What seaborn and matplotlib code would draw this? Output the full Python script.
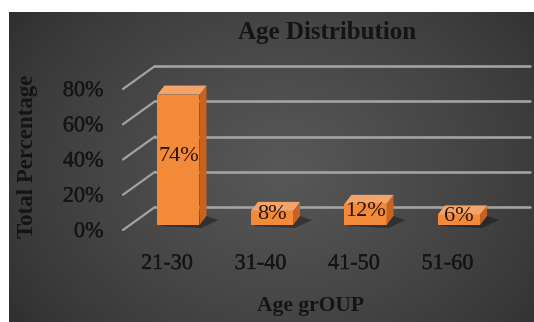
import numpy as np
import pandas as pd
import matplotlib
matplotlib.use("Agg")
import matplotlib.pyplot as plt
import matplotlib.patheffects as pe
import seaborn as sns
from matplotlib.transforms import ScaledTranslation, IdentityTransform
from matplotlib.patches import Polygon

# ---------------- data ----------------
categories = ["21-30", "31-40", "41-50", "51-60"]
values = [0.74, 0.08, 0.12, 0.06]
bar_labels = ["74%", "8%", "12%", "6%"]
y_ticks = [0.0, 0.2, 0.4, 0.6, 0.8]
y_tick_labels = ["0%", "20%", "40%", "60%", "80%"]
title = "Age Distribution"
x_title = "Age grOUP"
y_title = "Total Percentage"

sns.set_theme(style="white")
plt.rcParams["font.family"] = ["Liberation Serif", "DejaVu Serif"]

W, H, DPI = 534, 322, 100
fig = plt.figure(figsize=(W / DPI, H / DPI), dpi=DPI, facecolor="white")
TXT = "#141414"
thick = [pe.withStroke(linewidth=0.25, foreground=TXT)]

# ---------------- background panel (radial grey gradient) ----------------
bg = fig.add_axes([9 / W, 0, (W - 9) / W, (H - 12) / H])
ny, nx = 200, 340
yy, xx = np.mgrid[0:ny, 0:nx]
cx, cy = nx * 0.52, ny * 0.5
r = np.sqrt(((xx - cx) / (nx * 0.62)) ** 2 + ((yy - cy) / (ny * 0.85)) ** 2)
shade = np.clip(1 - r, 0, 1) ** 0.8
c_out = np.array([0x30, 0x30, 0x30]) / 255
c_in = np.array([0x58, 0x58, 0x58]) / 255
img = c_out + (c_in - c_out) * shade[..., None]
bg.imshow(img, aspect="auto", extent=[0, 1, 0, 1], interpolation="bilinear")
bg.set_axis_off()
bg.set_zorder(0)

# ---------------- main axes (front plane) ----------------
ax = fig.add_axes([123 / W, 92 / H, 375 / W, 141 / H])
ax.set_zorder(1)
ax.patch.set_alpha(0)

df = pd.DataFrame({"age": categories, "pct": values})
sns.barplot(data=df, x="age", y="pct", ax=ax, color="#F28A3A", width=0.45,
            saturation=1, edgecolor="none", zorder=3)

XL = (-0.47, 3.54)
ax.set_xlim(*XL)
ax.set_ylim(0, 0.8)
for s in ax.spines.values():
    s.set_visible(False)

# back wall gridlines + left wall diagonals
back = ax.transData + ScaledTranslation(0.32, 0.23, fig.dpi_scale_trans)
dxd = 32 / (375 / (XL[1] - XL[0]))
dyd = 23 / (141 / 0.8)
for t in y_ticks:
    ax.plot(XL, [t, t], transform=back, color="#a3a3a3", lw=1.9,
            solid_capstyle="round", zorder=1, clip_on=False)
    ax.plot([XL[0], XL[0] + dxd], [t, t + dyd], color="#a3a3a3", lw=1.6,
            zorder=1, clip_on=False)

# shift bars into the depth and add 3D faces
shift = ScaledTranslation(11.5 / DPI, 5 / DPI, fig.dpi_scale_trans)
bar_tr = ax.transData + shift
dx, dy = 7, 9
bars = list(ax.patches)
for p in bars:
    p.set_transform(bar_tr)
    p.set_clip_on(False)
    ext = p.get_window_extent()
    x0, y0, x1, y1 = ext.x0, ext.y0, ext.x1, ext.y1
    shadow = Polygon([(x0 + 2, y0 - 1), (x1 + 2, y0 - 3), (x1 + dx + 12, y0 + dy - 4),
                      (x1 + dx, y0 + dy)], closed=True, facecolor="black",
                     alpha=0.35, edgecolor="none", transform=IdentityTransform(),
                     zorder=2, clip_on=False)
    side = Polygon([(x1, y0), (x1 + dx, y0 + dy), (x1 + dx, y1 + dy), (x1, y1)],
                   closed=True, facecolor="#C8621E", edgecolor="none",
                   transform=IdentityTransform(), zorder=3, clip_on=False)
    top = Polygon([(x0, y1), (x1, y1), (x1 + dx, y1 + dy), (x0 + dx, y1 + dy)],
                  closed=True, facecolor="#F4A468", edgecolor="none",
                  transform=IdentityTransform(), zorder=3, clip_on=False)
    for poly in (shadow, side, top):
        ax.add_patch(poly)

# data labels
lab_tr = ax.transData + ScaledTranslation(11.5 / DPI, 8 / DPI, fig.dpi_scale_trans)
for i, (v, lab) in enumerate(zip(values, bar_labels)):
    ax.text(i, v / 2, lab, transform=lab_tr, ha="center", va="center",
            fontsize=16, color="#2a140a", zorder=5)

ax.set_xlim(*XL)
ax.set_ylim(0, 0.8)

# ticks
ax.set_yticks(y_ticks)
ax.set_yticklabels(y_tick_labels)
ax.tick_params(axis="y", length=0, pad=14, labelsize=16, labelcolor=TXT)
ax.set_xticks(range(len(categories)))
ax.set_xticklabels(categories)
ax.tick_params(axis="x", length=0, pad=18, labelsize=16, labelcolor=TXT)
for lab in ax.get_xticklabels() + ax.get_yticklabels():
    lab.set_color(TXT)
    lab.set_path_effects(thick)

ax.set_xlabel(x_title, fontsize=15.5, fontweight="bold", color=TXT, labelpad=16)
ax.set_ylabel(y_title, fontsize=16.5, fontweight="bold", color=TXT)
ax.yaxis.set_label_coords(-0.226, 0.52)

fig.text(327 / W, 1 - 33 / H, title, ha="center", va="center", fontsize=18,
         fontweight="bold", color=TXT)

fig.savefig("out.png", dpi=DPI, facecolor="white")
